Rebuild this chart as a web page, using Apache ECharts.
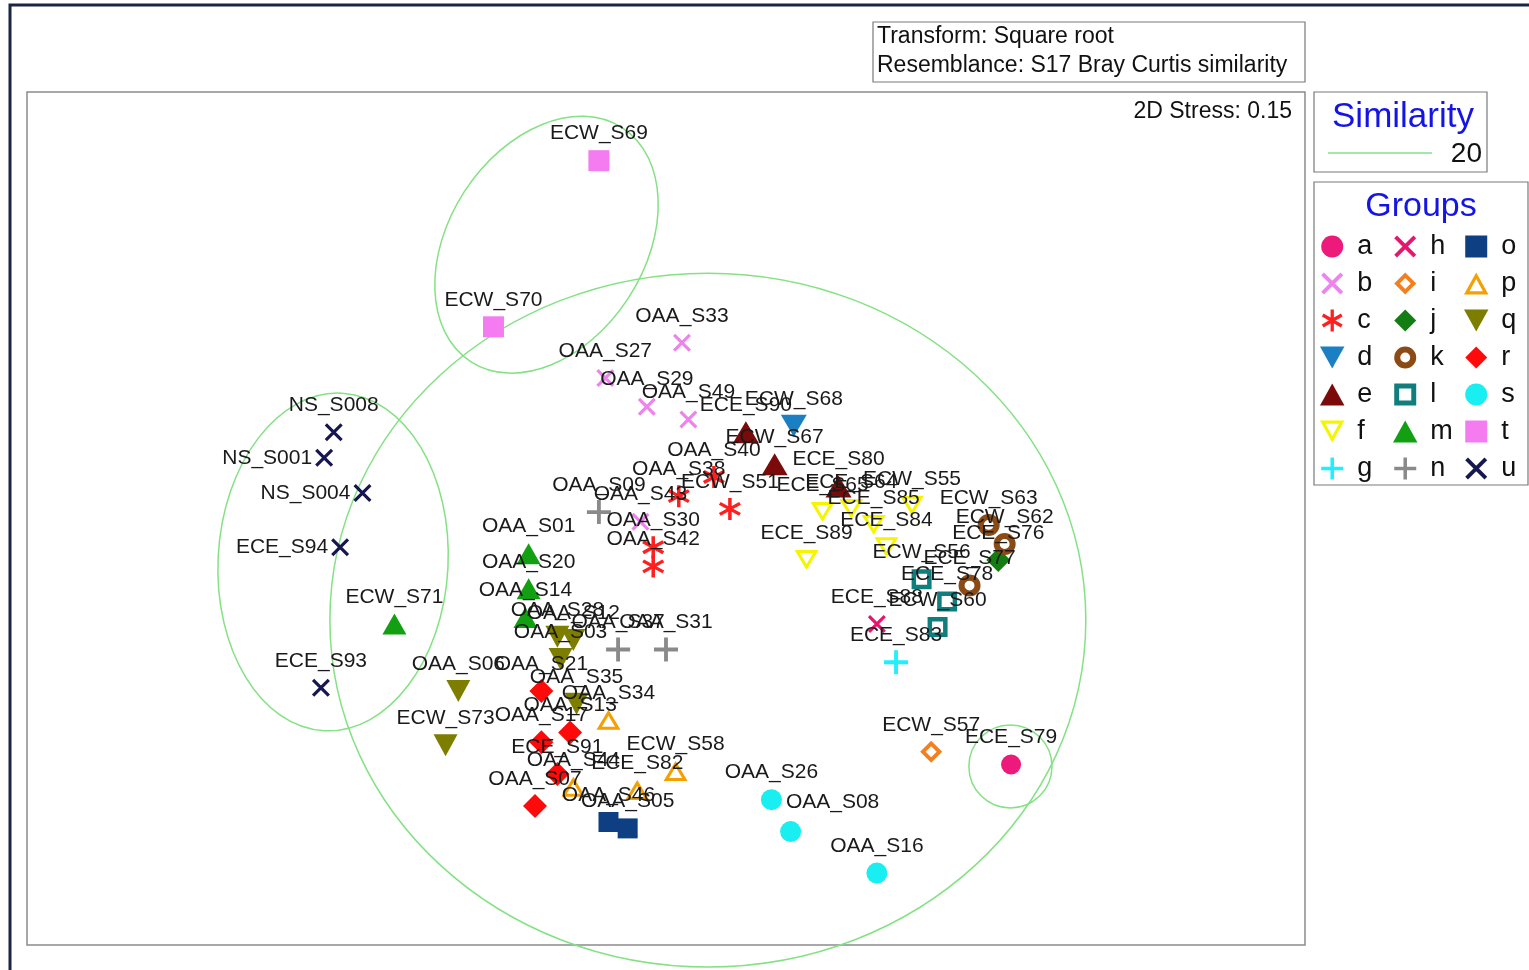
<!DOCTYPE html>
<html><head><meta charset="utf-8">
<script src="https://cdn.jsdelivr.net/npm/echarts@6/dist/echarts.min.js"></script>
<style>html,body{margin:0;padding:0;background:#fff}#chart{width:1529px;height:970px}</style>
</head><body><div id="chart"></div>
<script>
// ---- data (NMDS coordinates) ----
const groupIds = ['a','b','c','d','e','f','g','h','i','j','k','l','m','n','o','p','q','r','s','t','u'];
const grp_a = [['ECE_S79',1.08,-0.77]];
const grp_b = [['OAA_S33',0.05,0.55],['OAA_S27',-0.19,0.44],['OAA_S29',-0.06,0.35],['OAA_S49',0.07,0.31],['OAA_S43',-0.08,-0.01]];
const grp_c = [['OAA_S38',0.04,0.07],['OAA_S40',0.15,0.13],['ECW_S51',0.20,0.03],['OAA_S30',-0.04,-0.09],['OAA_S42',-0.04,-0.15]];
const grp_d = [['ECW_S68',0.40,0.29]];
const grp_e = [['ECE_S90',0.25,0.27],['ECW_S67',0.34,0.17],['ECE_S80',0.54,0.10]];
const grp_f = [['ECE_S65',0.49,0.02],['ECE_S64',0.58,0.03],['ECW_S55',0.77,0.04],['ECE_S85',0.65,-0.02],['ECE_S84',0.69,-0.09],['ECE_S89',0.44,-0.13]];
const grp_g = [['ECE_S83',0.72,-0.45]];
const grp_h = [['ECE_S88',0.66,-0.33]];
const grp_i = [['ECW_S57',0.83,-0.73]];
const grp_j = [['ECE_S76',1.04,-0.13]];
const grp_k = [['ECW_S63',1.01,-0.02],['ECW_S62',1.06,-0.08],['ECE_S77',0.95,-0.21]];
const grp_l = [['ECW_S56',0.80,-0.19],['ECE_S78',0.88,-0.26],['ECW_S60',0.85,-0.34]];
const grp_m = [['ECW_S71',-0.85,-0.33],['OAA_S01',-0.43,-0.11],['OAA_S20',-0.43,-0.22],['OAA_S14',-0.44,-0.31]];
const grp_n = [['OAA_S09',-0.21,0.02],['OAA_S37',-0.15,-0.41],['OAA_S31',0.00,-0.41]];
const grp_o = [['OAA_S46',-0.18,-0.95],['OAA_S05',-0.12,-0.97]];
const grp_p = [['OAA_S34',-0.18,-0.63],['OAA_S44',-0.29,-0.84],['ECE_S82',-0.09,-0.85],['ECW_S58',0.03,-0.79]];
const grp_q = [['OAA_S28',-0.34,-0.37],['OAA_S12',-0.29,-0.38],['OAA_S03',-0.33,-0.44],['OAA_S35',-0.28,-0.58],['OAA_S06',-0.65,-0.54],['ECW_S73',-0.69,-0.71]];
const grp_r = [['OAA_S21',-0.39,-0.54],['OAA_S13',-0.30,-0.67],['OAA_S17',-0.39,-0.70],['ECE_S91',-0.34,-0.80],['OAA_S07',-0.41,-0.90]];
const grp_s = [['OAA_S26',0.33,-0.88],['OAA_S08',0.39,-0.98],['OAA_S16',0.66,-1.11]];
const grp_t = [['ECW_S69',-0.21,1.12],['ECW_S70',-0.54,0.60]];
const grp_u = [['NS_S008',-1.04,0.27],['NS_S001',-1.07,0.19],['NS_S004',-0.95,0.08],['ECE_S94',-1.02,-0.09],['ECE_S93',-1.08,-0.53]];
// similarity (20%) cluster outlines: [cx, cy, rx, ry, rotationDeg]
const similarityClusters = [
  [-0.374, 0.857, 0.436, 0.306, 57],
  [-1.042, -0.136, 0.360, 0.529, -3],
  [0.131, -0.318, 1.183, 1.086, 0],
  [1.078, -0.776, 0.130, 0.130, 0]
];
const similarityLevel = '20';
const stressText = '2D Stress: 0.15';
const infoLines = ['Transform: Square root', 'Resemblance: S17 Bray Curtis similarity'];

// ---- styles ----
const groupData = {a:grp_a,b:grp_b,c:grp_c,d:grp_d,e:grp_e,f:grp_f,g:grp_g,h:grp_h,i:grp_i,j:grp_j,k:grp_k,l:grp_l,m:grp_m,n:grp_n,o:grp_o,p:grp_p,q:grp_q,r:grp_r,s:grp_s,t:grp_t,u:grp_u};
const P = {
  cross: 'path://M0,2.5L2.5,0L20,17.5L17.5,20ZM17.5,0L20,2.5L2.5,20L0,17.5Z',
  plus: 'path://M8.4,0H11.6V8.4H20V11.6H11.6V20H8.4V11.6H0V8.4H8.4Z',
  star: 'path://M8.5,0H11.5V20H8.5ZM0.59,6.3L2.09,3.7L19.41,13.7L17.91,16.3ZM17.91,3.7L19.41,6.3L2.09,16.3L0.59,13.7Z',
  up: 'path://M10,0L20,18L0,18Z',
  down: 'path://M0,0L20,0L10,18Z',
  square: 'path://M0,0H20V20H0Z',
  diamond: 'path://M10,0L20,10L10,20L0,10Z',
  downOpen: 'path://M0,0L20,0L10,18ZM4.5,2.7L10,12.6L15.5,2.7Z',
  upOpen: 'path://M10,0L20,18L0,18ZM10,5.4L4.5,15.3L15.5,15.3Z',
  squareOpen: 'path://M0,0H20V20H0ZM4.5,4.5V15.5H15.5V4.5Z',
  diamondOpen: 'path://M10,0L20,10L10,20L0,10ZM10,5L5,10L10,15L15,10Z',
  ring: 'path://M10,0A10,10,0,1,1,10,20A10,10,0,1,1,10,0ZM10,5.5A4.5,4.5,0,1,0,10,14.5A4.5,4.5,0,1,0,10,5.5Z'
};
const groupStyle = {
  a:{symbol:'circle', size:20, color:'#ee1a7b'},
  b:{symbol:P.cross, size:18, color:'#ee82ee'},
  c:{symbol:P.star, size:22, color:'#ff1f1f'},
  d:{symbol:P.down, size:[26,22], color:'#1b7fc4'},
  e:{symbol:P.up, size:[26,22], color:'#7b0a0a'},
  f:{symbol:P.downOpen, size:[24,20], color:'#f5f500'},
  g:{symbol:P.plus, size:24, color:'#1ff0ff'},
  h:{symbol:P.cross, size:18, color:'#e8146e'},
  i:{symbol:P.diamondOpen, size:22, color:'#f28020'},
  j:{symbol:P.diamond, size:24, color:'#137d13'},
  k:{symbol:P.ring, size:22, color:'#8c4a14'},
  l:{symbol:P.squareOpen, size:20, color:'#117e7e'},
  m:{symbol:P.up, size:[24,21], color:'#12a012'},
  n:{symbol:P.plus, size:24, color:'#8a8a8a'},
  o:{symbol:P.square, size:20, color:'#0d3f82'},
  p:{symbol:P.upOpen, size:[24,20], color:'#f4a000'},
  q:{symbol:P.down, size:[24,22], color:'#7d7d00'},
  r:{symbol:P.diamond, size:24, color:'#ff0a0a'},
  s:{symbol:'circle', size:21, color:'#19eef0'},
  t:{symbol:P.square, size:21, color:'#f57cf0'},
  u:{symbol:P.cross, size:18, color:'#161650'}
};
const labelSide = {NS_S001:'left', NS_S004:'left', ECE_S94:'left', OAA_S08:'upperRight'};
const FONT = '"Liberation Sans", Arial, sans-serif';
const GREEN = '#84e184';

function labelFor(name) {
  const side = labelSide[name];
  if (side === 'left') return {position:'left', distance:3};
  if (side === 'upperRight') return {position:'inside', offset:[42,-29]};
  return {position:'inside', offset:[0,-27]};
}

const series = [{
  type:'custom', name:'similarity', silent:true, clip:false, z:1,
  encode:{x:0, y:1},
  data: similarityClusters,
  renderItem: function (params, api) {
    const c = api.coord([api.value(0), api.value(1)]);
    const s = api.size([api.value(2), api.value(3)]);
    return {type:'ellipse', x:c[0], y:c[1], rotation: api.value(4) * Math.PI / 180,
      shape:{cx:0, cy:0, rx:s[0], ry:s[1]},
      style:{fill:null, stroke:GREEN, lineWidth:1.5}};
  }
}].concat(groupIds.map(g => ({
  type:'scatter', name:g, z:3,
  symbol: groupStyle[g].symbol, symbolSize: groupStyle[g].size,
  itemStyle:{color: groupStyle[g].color, opacity:1},
  emphasis:{disabled:true},
  label:{show:true, formatter:'{b}', fontSize:21, color:'#1a1a1a', fontFamily:FONT},
  data: groupData[g].map(d => ({name:d[0], value:[d[1], d[2]], label: labelFor(d[0])}))
})));

const legendCols = [1315, 1388, 1459];
const legends = legendCols.map((left, ci) => ({
  orient:'vertical', left:left, top:228, itemWidth:40, itemHeight:22, itemGap:10,
  selectedMode:false, symbolKeepAspect:true,
  data: groupIds.slice(ci*7, ci*7+7),
  textStyle:{fontSize:27, color:'#111', fontFamily:FONT}
}));

const chart = echarts.init(document.getElementById('chart'), null, {renderer:'canvas'});
chart.setOption({
  animation:false,
  backgroundColor:'#fff',
  grid:{left:27, top:92, width:1278, height:853, show:true, borderColor:'#8c8c8c', borderWidth:1.5},
  xAxis:{type:'value', min:-2, max:2, show:false},
  yAxis:{type:'value', min:-1.335, max:1.335, show:false},
  legend: legends,
  graphic: [
    {type:'rect', shape:{x:10, y:5, width:1600, height:1000}, style:{fill:null, stroke:'#1c2541', lineWidth:3}, silent:true},
    {type:'rect', shape:{x:873, y:22, width:432, height:60}, style:{fill:'#fff', stroke:'#7a7a7a', lineWidth:1.2}, silent:true},
    {type:'text', x:877, y:37, style:{text:infoLines[0], fontSize:23, fontFamily:FONT, fill:'#111', textAlign:'left', textVerticalAlign:'middle'}},
    {type:'text', x:877, y:66, style:{text:infoLines[1], fontSize:23, fontFamily:FONT, fill:'#111', textAlign:'left', textVerticalAlign:'middle'}},
    {type:'text', x:1292, y:112, style:{text:stressText, fontSize:23, fontFamily:FONT, fill:'#111', textAlign:'right', textVerticalAlign:'middle'}},
    {type:'rect', shape:{x:1314, y:92, width:173, height:80}, style:{fill:'#fff', stroke:'#7a7a7a', lineWidth:1.2}, silent:true},
    {type:'text', x:1403, y:117, style:{text:'Similarity', fontSize:35, fontFamily:FONT, fill:'#1414e6', textAlign:'center', textVerticalAlign:'middle'}},
    {type:'line', shape:{x1:1328, y1:153, x2:1432, y2:153}, style:{stroke:GREEN, lineWidth:1.5}},
    {type:'text', x:1482, y:154, style:{text:similarityLevel, fontSize:28, fontFamily:FONT, fill:'#111', textAlign:'right', textVerticalAlign:'middle'}},
    {type:'rect', shape:{x:1314, y:182, width:214, height:303}, style:{fill:null, stroke:'#7a7a7a', lineWidth:1.2}, silent:true, z:-1},
    {type:'text', x:1421, y:207, style:{text:'Groups', fontSize:34, fontFamily:FONT, fill:'#1414e6', textAlign:'center', textVerticalAlign:'middle'}}
  ],
  series: series
});
</script></body></html>
